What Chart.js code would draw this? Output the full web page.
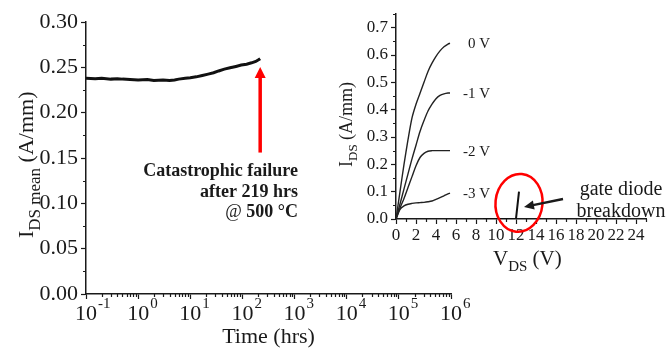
<!DOCTYPE html>
<html>
<head>
<meta charset="utf-8">
<script src="https://cdn.jsdelivr.net/npm/chart.js@4.4.0/dist/chart.umd.min.js"></script>
<style>
  html, body { margin: 0; padding: 0; background: #fff; }
  #wrap { position: relative; width: 670px; height: 349px; }
  #wrap canvas { position: absolute; left: 0; top: 0; }
</style>
</head>
<body>
<div id="wrap">
  <canvas id="lifeChart" width="670" height="349"></canvas>
  <canvas id="ivChart" width="670" height="349"></canvas>
</div>
<script>
const SERIF = "'Liberation Serif', 'Times New Roman', serif";
const INK = '#1a1a1a';

//Lifetime test @ 500 C (main plot)
const hours = [0.1, 0.15, 0.2, 0.3, 0.4, 0.5, 0.7, 1, 1.5, 2, 3, 4, 5, 6, 8, 10, 13, 17, 22, 28, 35, 45, 58, 75, 95, 120, 150, 180, 200, 219];
const idsMean = [0.238, 0.2375, 0.238, 0.237, 0.2375, 0.237, 0.2365, 0.236, 0.2365, 0.2355, 0.236, 0.2355, 0.236, 0.237, 0.238, 0.2385, 0.2395, 0.241, 0.2425, 0.244, 0.246, 0.248, 0.2495, 0.251, 0.2525, 0.2535, 0.255, 0.2565, 0.258, 0.2595];
const timeDecades = [-1, 0, 1, 2, 3, 4, 5, 6];
const idsTicks = [0, 0.05, 0.10, 0.15, 0.20, 0.25, 0.30];

//Output curves (inset)
const vds = [0, 0.4, 0.8, 1.2, 1.6, 2.0, 2.4, 2.8, 3.2, 3.6, 4.0, 4.4, 4.8, 5.2, 5.4];
const id0V = [0, 0.10, 0.20, 0.29, 0.37, 0.42, 0.46, 0.50, 0.54, 0.57, 0.595, 0.615, 0.63, 0.64, 0.643];
const idM1V = [0, 0.055, 0.11, 0.165, 0.22, 0.27, 0.32, 0.36, 0.395, 0.42, 0.44, 0.452, 0.458, 0.461, 0.461];
const idM2V = [0, 0.04, 0.075, 0.115, 0.155, 0.195, 0.225, 0.24, 0.248, 0.25, 0.25, 0.25, 0.25, 0.25, 0.25];
const idM3V = [0, 0.035, 0.048, 0.054, 0.057, 0.059, 0.06, 0.061, 0.063, 0.066, 0.072, 0.078, 0.085, 0.092, 0.095];
const gateLabels = ['0 V', '-1 V', '-2 V', '-3 V'];
const bdVds = [8.7, 9.6, 10.5, 11.4, 12.0, 12.3];
const bdIds = [0, 0, 0, 0, 0.001, 0.1];
const vdsTicks = [0, 2, 4, 6, 8, 10, 12, 14, 16, 18, 20, 22, 24];
const ivTicks = [0, 0.1, 0.2, 0.3, 0.4, 0.5, 0.6, 0.7];

function pts(xs, ys) {
    return xs.map((v, i) => ({x: v, y: ys[i]}));
}

function arrow(ctx, x1, y1, x2, y2, len, half) {
    const ang = Math.atan2(y2 - y1, x2 - x1);
    ctx.beginPath();
    ctx.moveTo(x1, y1);
    ctx.lineTo(x2 - Math.cos(ang) * len * 0.8, y2 - Math.sin(ang) * len * 0.8);
    ctx.stroke();
    ctx.beginPath();
    ctx.moveTo(x2, y2);
    ctx.lineTo(x2 - Math.cos(ang) * len - Math.sin(ang) * half, y2 - Math.sin(ang) * len + Math.cos(ang) * half);
    ctx.lineTo(x2 - Math.cos(ang) * len + Math.sin(ang) * half, y2 - Math.sin(ang) * len - Math.cos(ang) * half);
    ctx.closePath();
    ctx.fill();
}

//draws "main" + subscript + rest, starting at (0,0) of current transform
function subText(ctx, main, sub, rest, size, subSize, drop) {
    ctx.textAlign = 'left';
    ctx.textBaseline = 'alphabetic';
    ctx.font = `${size}px ${SERIF}`;
    ctx.fillText(main, 0, 0);
    let w = ctx.measureText(main).width;
    ctx.font = `${subSize}px ${SERIF}`;
    ctx.fillText(sub, w, drop);
    w += ctx.measureText(sub).width;
    ctx.font = `${size}px ${SERIF}`;
    ctx.fillText(rest, w, 0);
}

const axisLook = {
    border: {display: true, color: INK, width: 1.5},
    grid: {display: true, drawOnChartArea: false, drawTicks: true, tickLength: 5, tickColor: INK, tickWidth: 1.2},
};

//Main lifetime plot decorations
const lifeDecor = {
    id: 'lifeDecor',
    afterDraw(chart) {
        const {ctx, chartArea: a, scales: {x, y}} = chart;
        ctx.save();
        ctx.strokeStyle = INK;
        ctx.fillStyle = INK;
        ctx.lineWidth = 1.2;
        ctx.beginPath();
        for (let i = 0; i < idsTicks.length - 1; i++) {
            const py = Math.round(y.getPixelForValue((idsTicks[i] + idsTicks[i + 1]) / 2)) + 0.5;
            ctx.moveTo(a.left - 3, py);
            ctx.lineTo(a.left, py);
        }
        for (let e = -1; e < 6; e++) {
            for (let k = 2; k <= 9; k++) {
                const px = Math.round(x.getPixelForValue(k * Math.pow(10, e))) + 0.5;
                ctx.moveTo(px, a.bottom);
                ctx.lineTo(px, a.bottom + 3);
            }
        }
        ctx.stroke();

        //decade labels 10^n
        timeDecades.forEach(e => {
            const px = x.getPixelForValue(Math.pow(10, e));
            ctx.font = `22px ${SERIF}`;
            const w = ctx.measureText('10').width;
            ctx.textAlign = 'center';
            ctx.fillText('10', px, 320);
            ctx.font = `15px ${SERIF}`;
            ctx.textAlign = 'left';
            ctx.fillText(e < 0 ? '-' + (-e) : String(e), px + w / 2 + 1, 308);
        });

        ctx.font = `22px ${SERIF}`;
        ctx.textAlign = 'center';
        ctx.fillText('Time (hrs)', (a.left + a.right) / 2, 343);

        ctx.save();
        ctx.translate(33, 238);
        ctx.rotate(-Math.PI / 2);
        subText(ctx, 'I', 'DS mean', ' (A/mm)', 22, 17, 7);
        ctx.restore();

        //failure annotation
        const ax = x.getPixelForValue(219);
        ctx.strokeStyle = '#ff0000';
        ctx.fillStyle = '#ff0000';
        ctx.lineWidth = 3.5;
        arrow(ctx, ax, y.getPixelForValue(0.156), ax, y.getPixelForValue(0.2505), 11, 5.5);

        ctx.fillStyle = INK;
        ctx.textAlign = 'right';
        ctx.font = `bold 18px ${SERIF}`;
        ctx.fillText('Catastrophic failure', 298, 176);
        ctx.fillText('after 219 hrs', 298, 197);
        ctx.fillText('500 \u00B0C', 298, 217);
        const bw = ctx.measureText('500 \u00B0C').width;
        ctx.font = `18px ${SERIF}`;
        ctx.fillText('@ ', 298 - bw, 217);
        ctx.restore();
    }
};

const lifeChart = new Chart(document.getElementById('lifeChart'), {
    type: 'line',
    data: {
        datasets: [{
            label: 'IDS mean',
            data: pts(hours, idsMean),
            borderColor: '#111',
            borderWidth: 3,
            pointRadius: 0,
            tension: 0,
            fill: false,
        }]
    },
    options: {
        responsive: false,
        animation: false,
        events: [],
        layout: {padding: {left: 0, right: 219, top: 22, bottom: 0}},
        plugins: {legend: {display: false}, tooltip: {enabled: false}},
        scales: {
            x: {
                type: 'logarithmic',
                min: 0.1,
                max: 1e6,
                ...axisLook,
                afterBuildTicks: s => { s.ticks = timeDecades.map(e => ({value: Math.pow(10, e), major: true})); },
                afterFit: s => { s.height = 55; },
                ticks: {autoSkip: false, callback: () => ''},
            },
            y: {
                min: 0,
                max: 0.30,
                ...axisLook,
                afterBuildTicks: s => { s.ticks = idsTicks.map(v => ({value: v})); },
                afterFit: s => { s.width = 86; },
                ticks: {
                    padding: 3,
                    color: INK,
                    font: {family: SERIF, size: 22},
                    callback: v => Number(v).toFixed(2),
                },
            },
        },
    },
    plugins: [lifeDecor],
});

//Inset decorations
const ivDecor = {
    id: 'ivDecor',
    afterDraw(chart) {
        const {ctx, chartArea: a, scales: {x, y}} = chart;
        ctx.save();
        ctx.strokeStyle = INK;
        ctx.fillStyle = INK;
        ctx.lineWidth = 1.2;
        ctx.beginPath();
        for (let i = 0; i < ivTicks.length; i++) {
            const py = Math.round(y.getPixelForValue(ivTicks[i] + 0.05)) + 0.5;
            ctx.moveTo(a.left - 3, py);
            ctx.lineTo(a.left, py);
        }
        for (let v = 1; v <= 25; v += 2) {
            const px = Math.round(x.getPixelForValue(v)) + 0.5;
            ctx.moveTo(px, a.bottom);
            ctx.lineTo(px, a.bottom + 3);
        }
        ctx.stroke();

        //gate voltage labels at curve ends
        const ends = [id0V, idM1V, idM2V, idM3V].map(c => c[c.length - 1]);
        ctx.font = `15px ${SERIF}`;
        ctx.textAlign = 'right';
        ctx.textBaseline = 'middle';
        gateLabels.forEach((t, i) => {
            ctx.fillText(t, x.getPixelForValue(9.4), y.getPixelForValue(ends[i]) + 1);
        });

        //axis titles
        ctx.save();
        ctx.translate(352, 167);
        ctx.rotate(-Math.PI / 2);
        subText(ctx, 'I', 'DS', ' (A/mm)', 18, 13, 5);
        ctx.restore();
        ctx.save();
        ctx.translate(493, 265);
        subText(ctx, 'V', 'DS', ' (V)', 21, 15, 6);
        ctx.restore();

        //gate diode breakdown callout
        ctx.strokeStyle = '#ff0000';
        ctx.lineWidth = 2.5;
        ctx.beginPath();
        ctx.ellipse(x.getPixelForValue(12.3), y.getPixelForValue(0.059), 23.5, 29, 0.1, 0, Math.PI * 2);
        ctx.stroke();

        ctx.strokeStyle = INK;
        ctx.fillStyle = INK;
        ctx.lineWidth = 2.5;
        arrow(ctx, 563, 199, 524, 207, 10, 4.5);

        ctx.font = `20px ${SERIF}`;
        ctx.textAlign = 'center';
        ctx.textBaseline = 'alphabetic';
        ctx.fillText('gate diode', 621, 195);
        ctx.fillText('breakdown', 621, 217);
        ctx.restore();
    }
};

const curveStyle = {borderColor: '#222', borderWidth: 1.4, pointRadius: 0, tension: 0.3, fill: false};

const ivChart = new Chart(document.getElementById('ivChart'), {
    type: 'line',
    data: {
        datasets: [
            {label: '0 V', data: pts(vds, id0V), ...curveStyle},
            {label: '-1 V', data: pts(vds, idM1V), ...curveStyle},
            {label: '-2 V', data: pts(vds, idM2V), ...curveStyle},
            {label: '-3 V', data: pts(vds, idM3V), ...curveStyle},
            {label: 'breakdown', data: pts(bdVds, bdIds), borderColor: '#111', borderWidth: 2, pointRadius: 0, tension: 0, fill: false},
        ]
    },
    options: {
        responsive: false,
        animation: false,
        events: [],
        layout: {padding: {left: 0, right: 24, top: 14, bottom: 0}},
        plugins: {legend: {display: false}, tooltip: {enabled: false}},
        scales: {
            x: {
                type: 'linear',
                min: 0,
                max: 25,
                ...axisLook,
                afterBuildTicks: s => { s.ticks = vdsTicks.map(v => ({value: v})); },
                afterFit: s => { s.height = 130; },
                ticks: {autoSkip: false, maxRotation: 0, padding: 1, color: INK, font: {family: SERIF, size: 17}},
            },
            y: {
                min: 0,
                max: 0.75,
                ...axisLook,
                afterBuildTicks: s => { s.ticks = ivTicks.map(v => ({value: v})); },
                afterFit: s => { s.width = 396; },
                ticks: {padding: 3, color: INK, font: {family: SERIF, size: 17}, callback: v => Number(v).toFixed(1)},
            },
        },
    },
    plugins: [ivDecor],
});
</script>
</body>
</html>
